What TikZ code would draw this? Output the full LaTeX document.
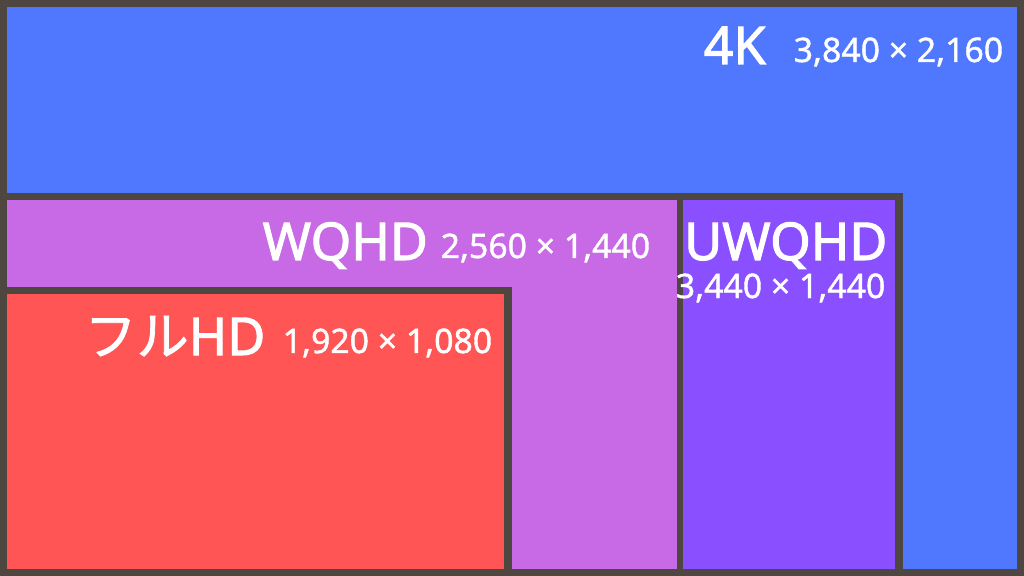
\documentclass[tikz,border=0pt]{standalone}
\usepackage{fontspec}
\setmainfont{Noto Sans}
\newfontfamily\titlefont{Noto Sans}[FakeBold=2]
\newfontfamily\specfont{Noto Sans}[FakeBold=1.2]
\newfontfamily\jpfont{Noto Sans CJK JP}[FakeBold=1.5]
\usetikzlibrary{positioning}

\definecolor{frame}{HTML}{4D4641}
\definecolor{fourkblue}{HTML}{5078FF}
\definecolor{wqhdpink}{HTML}{C86AE6}
\definecolor{uwqhdviolet}{HTML}{8A4FFF}
\definecolor{fhdred}{HTML}{FF5555}

\begin{document}
\begin{tikzpicture}[x=0.01cm, y=-0.01cm,
  title/.style={text=white, inner sep=0pt, font=\fontsize{14.8}{16}\selectfont\titlefont},
  spec/.style={text=white, inner sep=0pt, font=\fontsize{9.6}{11}\selectfont\specfont}]
\useasboundingbox (0,0) rectangle (1024,576);
% frame and areas
\fill[frame] (0,0) rectangle (1024,576);
\fill[fourkblue] (7,7) rectangle (1017,569);
\fill[frame] (0,193) rectangle (903,576);
\fill[wqhdpink] (7,200) rectangle (677,569);
\fill[uwqhdviolet] (683,200) rectangle (895,569);
\fill[frame] (0,287) rectangle (512,576);
\fill[fhdred] (7,294) rectangle (504,569);
% labels
\node[title, anchor=base west] (fourk) at (703,64) {4K};
\node[spec, anchor=base west] (fourkres) at (793,62) {3,840 × 2,160};
\node[title, anchor=base west] (wqhd) at (262,260) {WQHD};
\node[spec, anchor=base west] (wqhdres) at (440,258) {2,560 × 1,440};
\node[title, anchor=base east] (uwqhd) at (888,260) {UWQHD};
\node[spec, anchor=base east] (uwqhdres) at (886,298) {3,440 × 1,440};
\node[title, anchor=base east] (fhd) at (266,355) {{\jpfont フル}HD};
\node[spec, anchor=base west] (fhdres) at (282,353) {1,920 × 1,080};
\end{tikzpicture}
\end{document}
